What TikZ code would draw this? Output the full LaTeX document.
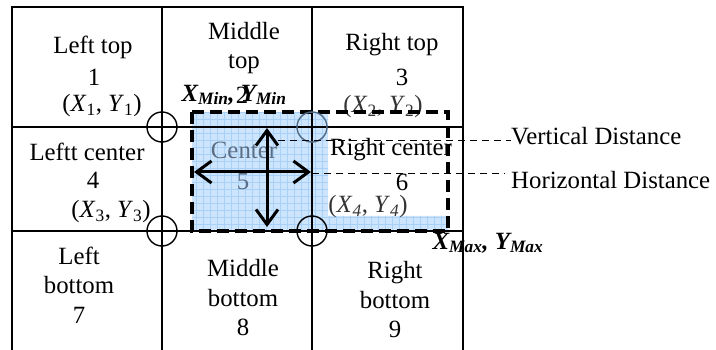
\documentclass[tikz,border=0pt]{standalone}
\usepackage{fontspec}
\setmainfont{Liberation Serif}
\usepackage{tikz}
\usetikzlibrary{arrows.meta,positioning,calc}

\definecolor{fillblue}{HTML}{CCE5FD}
\definecolor{gridblue}{HTML}{A9D1F8}
\definecolor{greyblue}{HTML}{5C6E84}
\definecolor{ringgrey}{HTML}{4F6A86}

\begin{document}
\begin{tikzpicture}[x=1pt, y=-1pt,
  txt/.style={font=\fontsize{24.8}{29.5}\selectfont, align=center, inner sep=0pt},
  dim/.style={txt, text=black!80},
  corner/.style={txt, font=\fontsize{24.8}{29.5}\selectfont\bfseries\itshape},
  ring/.style={draw, circle, minimum size=30pt, inner sep=0pt, line width=1.4pt},
  arr/.style={{Straight Barb[length=15pt, width=22pt]}-{Straight Barb[length=15pt, width=22pt]}, line width=3pt},
  lead/.style={dashed, line width=0.9pt, dash pattern=on 7pt off 5pt}
]
  \useasboundingbox (0,0) rectangle (716,350);

  % Selected area (blue, gridded)
  \fill[fillblue] (192,112) -- (328,112) -- (328,216) -- (448,216) -- (448,231) -- (192,231) -- cycle;
  \begin{scope}
    \clip (192,112) -- (328,112) -- (328,216) -- (448,216) -- (448,231) -- (192,231) -- cycle;
    \draw[gridblue, line width=0.6pt, step=7pt] (185,235) grid (455,105);
  \end{scope}

  % 3x3 grid
  \draw[line width=1.5pt] (12,350) -- (12,7) -- (463,7) -- (463,350);
  \draw[line width=1.5pt] (162,7) -- (162,350);
  \draw[line width=1.5pt] (312,7) -- (312,350);
  \draw[line width=1.5pt] (12,127) -- (463,127);
  \draw[line width=1.5pt] (12,231) -- (463,231);

  % Cell texts
  \node[txt] (t1) at (93,47) {Left top};
  \node[txt] (n1) at (94,77) {1};
  \node[txt] (c1) at (102,106) {(\textit{X}\textsubscript{1}, \textit{Y}\textsubscript{1})};

  \node[txt] (t2) at (244,48) {Middle\\top};
  \node[txt] (n2) at (242,95) {2};

  \node[txt] (t3) at (392,45) {Right top};
  \node[txt] (n3) at (402,77) {3};
  \node[dim] (c2) at (383,107) {(\textit{X}\textsubscript{2}, \textit{Y}\textsubscript{2})};

  \node[txt] (t4) at (87,152) {Leftt center};
  \node[txt] (n4) at (93,180) {4};
  \node[txt] (c3) at (111,212) {(\textit{X}\textsubscript{3}, \textit{Y}\textsubscript{3})};

  \node[txt, text=greyblue] (t5) at (244,150) {Center};
  \node[txt, text=greyblue] (n5) at (243,182) {5};

  \node[txt] (t6) at (391,150) {Right center};
  \node[txt] (n6) at (402,182) {6};
  \node[dim] (c4) at (368,207) {(\textit{X}\textsubscript{\textit{4}}, \textit{Y}\textsubscript{\textit{4}})};

  \node[txt] (t7) at (79,285) {Left\\bottom\\7};
  \node[txt] (t8) at (243,298) {Middle\\bottom\\8};
  \node[txt] (t9) at (395,300) {Right\\bottom\\9};

  % Bounding box of the object
  \draw[line width=3.5pt, dash pattern=on 12pt off 6pt] (192,112) rectangle (448,231);
  \node[corner] (min) at (234,95) {X\textsubscript{Min}, Y\textsubscript{Min}};
  \node[corner] (max) at (488,243) {X\textsubscript{Max}, Y\textsubscript{Max}};

  % Corner points
  \node[ring] (o1) at (162,127) {};
  \node[ring] (o3) at (162,231) {};
  \node[ring, draw=ringgrey] (o2) at (312,127) {};
  \node[ring] (o4) at (312,231) {};

  % Distances
  \coordinate (vtop) at (267,128);
  \coordinate (vbot) at (267,227);
  \coordinate (hleft) at (194,172);
  \coordinate (hright) at (311,172);
  \draw[arr] (vtop) -- (vbot);
  \draw[arr] (hleft) -- (hright);

  \node[txt, anchor=west] (vd) at (511,136) {Vertical Distance};
  \node[txt, anchor=west] (hd) at (511,180) {Horizontal Distance};
  \coordinate (vdl) at (278,140);
  \coordinate (hdl) at (312,173);
  \draw[lead] (vdl) -- (vdl -| vd.west);
  \draw[lead] (hdl) -- ($(hdl -| hd.west)+(-6,0)$);

\end{tikzpicture}
\end{document}
